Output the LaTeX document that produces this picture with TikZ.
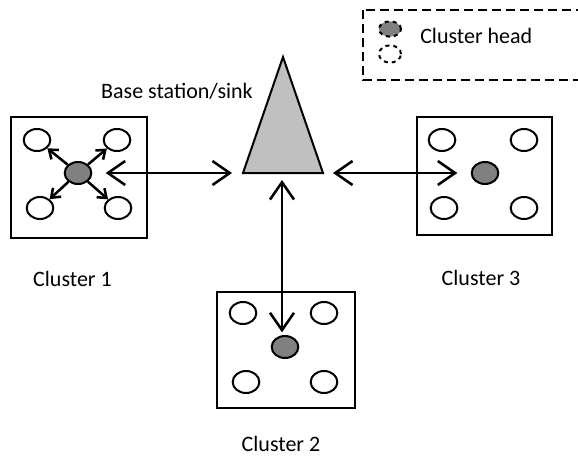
\documentclass[tikz,border=0pt]{standalone}
\usepackage{fontspec}
\setmainfont{Carlito}
\usetikzlibrary{arrows.meta,shapes.geometric}
\definecolor{HeadGray}{RGB}{128,128,128}
\definecolor{SinkGray}{RGB}{192,192,192}

\begin{document}
\begin{tikzpicture}[x=0.75pt,y=-0.75pt,
 font=\fontsize{16.5}{19}\selectfont,
 sn/.style={ellipse,draw,line width=1.5pt,minimum width=20pt,minimum height=16.5pt,inner sep=0pt},
 hd/.style={sn,fill=HeadGray},
 cl/.style={draw,line width=1.4pt,inner sep=0pt},
 lb/.style={anchor=base,inner sep=0pt},
 a/.style={{Straight Barb[length=13pt,width=18pt]}-{Straight Barb[length=13pt,width=18pt]},line width=1.9pt},
 sa/.style={-{Straight Barb[length=6pt,width=9pt]},line width=1.9pt}]
\useasboundingbox (0,0) rectangle (578,457);
% legend
\draw[line width=1.4pt,dash pattern=on 6.5pt off 4pt] (363,10) rectangle (600,80);
\node[hd,dashed,minimum width=16.5pt,minimum height=11.5pt] (lgh) at (390,29) {};
\node[sn,dashed,minimum width=16.5pt,minimum height=13pt] (lgn) at (390,54) {};
\node[lb,anchor=base west] (lgt) at (420,43) {Cluster head};
% base station
\draw[line width=1.5pt,fill=SinkGray] (243,173) -- (283,57) -- (323,173) -- cycle;
\coordinate (bsl) at (232,173);
\coordinate (bsr) at (333,173);
\coordinate (bsb) at (282,180);
\node[lb,anchor=base east] (bst) at (253,98) {Base station/sink};
% cluster 1
\node[cl,minimum width=102pt,minimum height=91pt] (c1) at (79,177.5) {};
\node[hd] (h1) at (78,173) {};
\node[sn] (n11) at (37,140) {};
\node[sn] (n12) at (117,140) {};
\node[sn] (n13) at (40,208) {};
\node[sn] (n14) at (118,208) {};
\draw[sa] (h1)--(n11);\draw[sa] (h1)--(n12);\draw[sa] (h1)--(n13);\draw[sa] (h1)--(n14);
\node[lb] (l1) at (72.5,286) {Cluster 1};
% cluster 2
\node[cl,minimum width=103.5pt,minimum height=87pt] (c2) at (286,350) {};
\node[hd] (h2) at (285,347) {};
\node[sn] (n21) at (243,313) {};
\node[sn] (n22) at (324,313) {};
\node[sn] (n23) at (246,382) {};
\node[sn] (n24) at (324,382) {};
\node[lb] (l2) at (281,451) {Cluster 2};
% cluster 3
\node[cl,minimum width=101pt,minimum height=88.5pt] (c3) at (484.5,176) {};
\node[hd] (h3) at (485,173) {};
\node[sn] (n31) at (442,140) {};
\node[sn] (n32) at (524,140) {};
\node[sn] (n33) at (444,208) {};
\node[sn] (n34) at (524,208) {};
\node[lb] (l3) at (481,285) {Cluster 3};
% links to sink
\draw[a,shorten <=10pt] (h1.east)--(bsl);
\draw[a,shorten >=10pt] (bsr)--(h3.west);
\draw[a,shorten >=2pt] (bsb)--(bsb|-h2.north);
\end{tikzpicture}
\end{document}
